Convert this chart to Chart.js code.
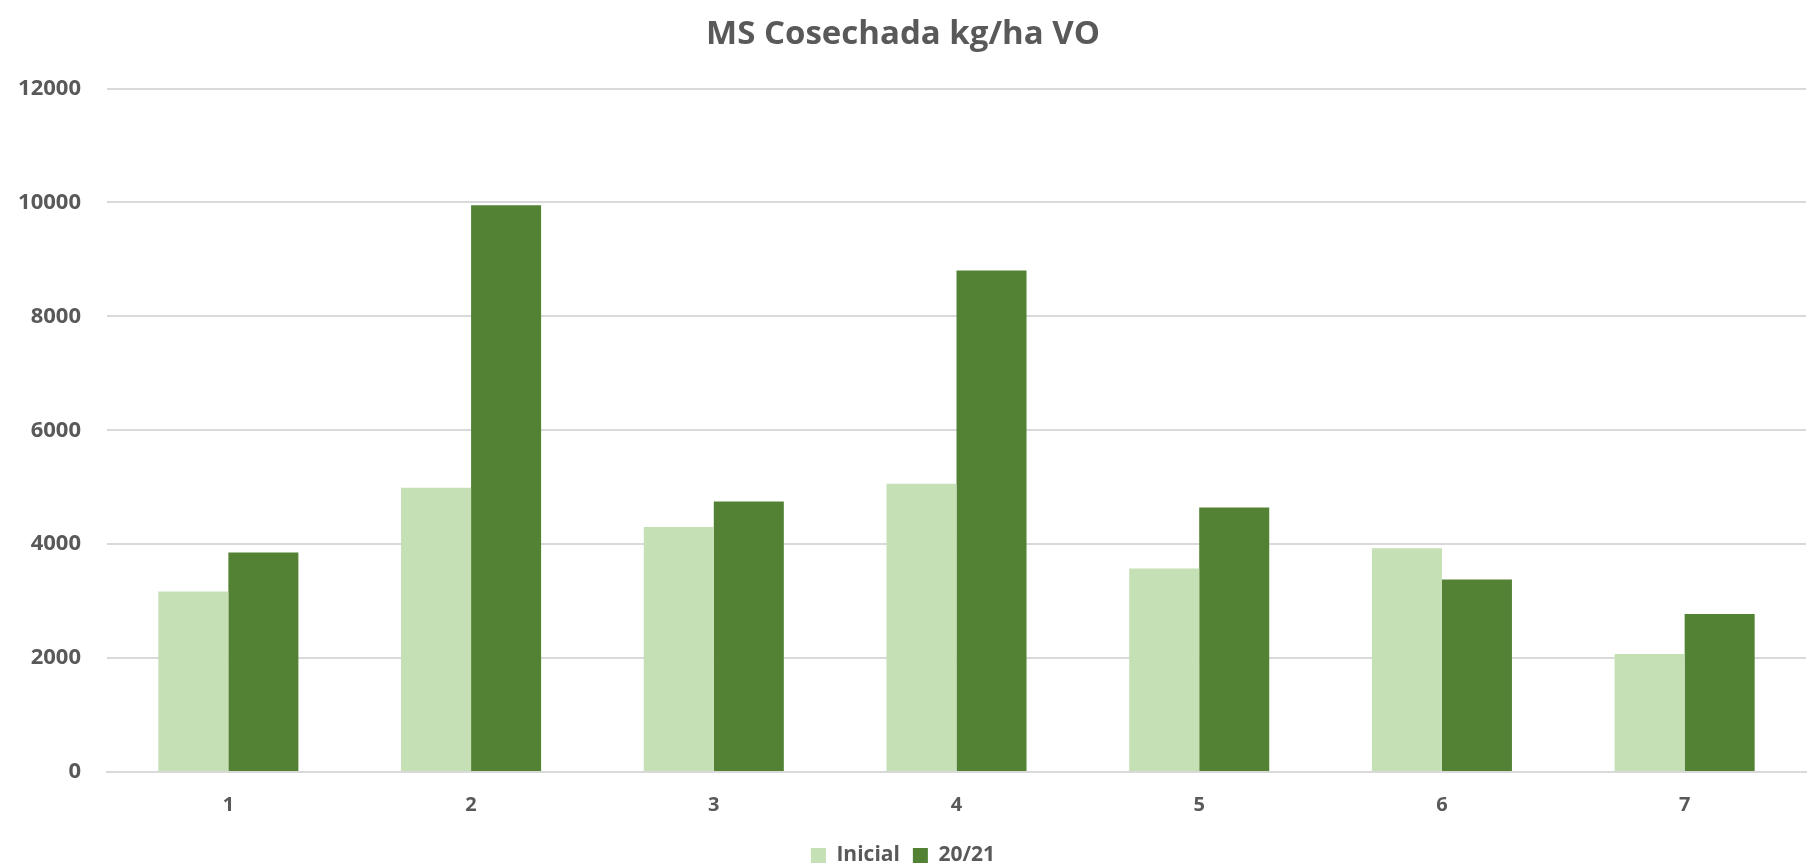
<!DOCTYPE html>
<html>
<head>
<meta charset="utf-8">
<script src="https://cdn.jsdelivr.net/npm/chart.js@4"></script>
<style>
  html, body { margin: 0; padding: 0; background: #fff; }
  #wrap { width: 1808px; height: 868px; }
</style>
</head>
<body>
<div id="wrap"><canvas id="msChart"></canvas></div>
<script>
// Chart data
const categories = ['1', '2', '3', '4', '5', '6', '7'];
const inicialValues = [3170, 4990, 4300, 5060, 3575, 3930, 2070];
const campaignValues = [3855, 9950, 4750, 8805, 4645, 3380, 2775];
const yTicks = [0, 2000, 4000, 6000, 8000, 10000, 12000];

const textColor = '#595959';
const gridColor = '#D9D9D9';
const fontFamily = '"Open Sans", "Liberation Sans", sans-serif';

const ctx = document.getElementById('msChart').getContext('2d');

new Chart(ctx, {
    type: 'bar',
    data: {
        labels: categories,
        datasets: [{
            label: 'Inicial',
            data: inicialValues,
            backgroundColor: '#C5E0B4',
            borderWidth: 0
        }, {
            label: '20/21',
            data: campaignValues,
            backgroundColor: '#548235',
            borderWidth: 0
        }]
    },
    options: {
        responsive: true,
        maintainAspectRatio: false,
        animation: false,
        datasets: {
            bar: { categoryPercentage: 0.577, barPercentage: 1.0 }
        },
        layout: { padding: { left: 0, right: 2, top: 15, bottom: -8 } },
        plugins: {
            title: {
                display: true,
                text: 'MS Cosechada kg/ha VO',
                color: textColor,
                font: { family: fontFamily, size: 33, weight: 'bold' },
                padding: { top: 0, bottom: 34 }
            },
            legend: {
                position: 'bottom',
                labels: {
                    color: textColor,
                    boxWidth: 15,
                    boxHeight: 15,
                    padding: 13,
                    font: { family: fontFamily, size: 21, weight: 'bold' }
                }
            },
            tooltip: { enabled: false }
        },
        scales: {
            x: {
                grid: { display: false },
                border: { color: gridColor, width: 2 },
                afterFit: scale => { scale.height += 2; },
                ticks: {
                    color: textColor,
                    padding: 13,
                    font: { family: fontFamily, size: 20, weight: 'bold' }
                }
            },
            y: {
                min: 0,
                max: 12000,
                afterBuildTicks: scale => {
                    scale.ticks = yTicks.map(v => ({ value: v }));
                },
                afterFit: scale => { scale.width = 107; },
                grid: { color: gridColor, lineWidth: 2, drawTicks: false },
                border: { display: false },
                ticks: {
                    color: textColor,
                    padding: 26,
                    callback: v => String(v),
                    font: { family: fontFamily, size: 22, weight: 'bold' }
                }
            }
        }
    }
});
</script>
</body>
</html>
